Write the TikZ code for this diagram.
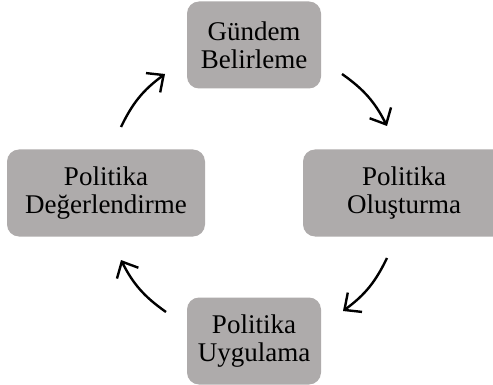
\documentclass[tikz,border=0pt]{standalone}
\usepackage{fontspec}
\setmainfont{Liberation Serif}
\usetikzlibrary{arrows.meta}
\definecolor{boxgray}{HTML}{AEABAB}
\tikzset{
  stagebox/.style={fill=boxgray, rounded corners=12pt, align=center,
    font=\fontsize{27}{28}\selectfont, inner sep=0pt},
  cyclearrow/.style={line width=2.4pt, bend left=14, -{Straight Barb[length=13pt,width=24pt,line width=2.4pt]}}
}
\begin{document}
\begin{tikzpicture}[x=1pt,y=-1pt]
\useasboundingbox (0,0) rectangle (493,385);
\node[stagebox, minimum width=134pt, minimum height=87pt] (top) at (254,45) {Gündem\\Belirleme};
\node[stagebox, minimum width=198pt, minimum height=87pt] (left) at (106,193) {Politika\\Değerlendirme};
\node[stagebox, minimum width=202pt, minimum height=87pt] (right) at (404,193) {Politika\\Oluşturma};
\node[stagebox, minimum width=134pt, minimum height=87pt] (bottom) at (254,341) {Politika\\Uygulama};
\coordinate (a1s) at (342,74);  \coordinate (a1e) at (387,126);
\coordinate (a2s) at (387,258); \coordinate (a2e) at (343,311);
\coordinate (a3s) at (166,312); \coordinate (a3e) at (121,260);
\coordinate (a4s) at (121,127); \coordinate (a4e) at (165,74);
\draw[cyclearrow] (a1s) to (a1e);
\draw[cyclearrow] (a2s) to (a2e);
\draw[cyclearrow] (a3s) to (a3e);
\draw[cyclearrow] (a4s) to (a4e);
\end{tikzpicture}
\end{document}
